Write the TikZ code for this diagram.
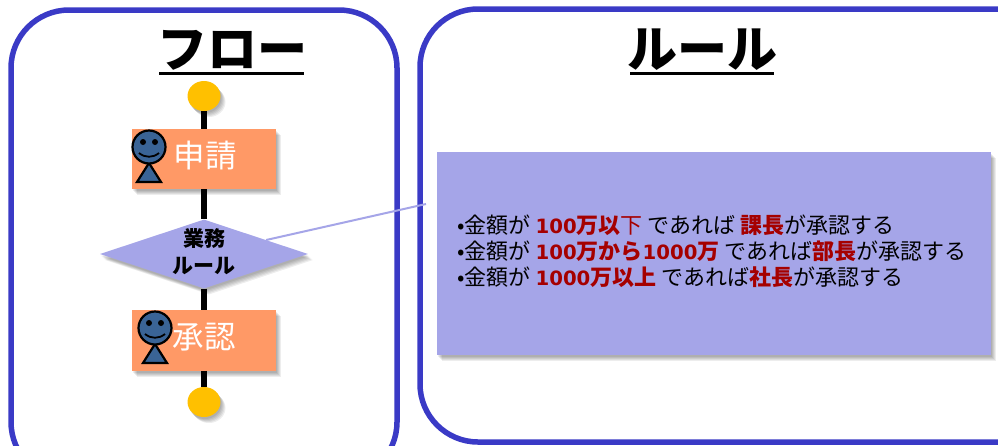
\documentclass[tikz,border=0pt]{standalone}
\usepackage{fontspec}
\setmainfont{Noto Sans CJK JP}
\newfontfamily\digitfont{DejaVu Sans}
\usetikzlibrary{shapes.geometric,shadows}

\definecolor{panelblue}{HTML}{3A3AC6}
\definecolor{rulefill}{HTML}{A5A5E8}
\definecolor{stepfill}{HTML}{FF9966}
\definecolor{dotfill}{HTML}{FFC000}
\definecolor{headfill}{HTML}{3A6496}
\definecolor{rulered}{HTML}{A50000}

\newcommand{\num}[1]{{\digitfont\fontsize{19.7}{22}\selectfont\bfseries #1}}
\newcommand{\hlr}[1]{\textcolor{rulered}{\bfseries #1}}

\tikzset{
  softshadow/.style={
    general shadow={fill=black,opacity=0.07,shadow xshift=1pt,shadow yshift=-2pt},
    general shadow={fill=black,opacity=0.07,shadow xshift=2pt,shadow yshift=-3pt},
    general shadow={fill=black,opacity=0.07,shadow xshift=3pt,shadow yshift=-4pt},
    general shadow={fill=black,opacity=0.07,shadow xshift=4pt,shadow yshift=-5pt},
    general shadow={fill=black,opacity=0.07,shadow xshift=5pt,shadow yshift=-6pt}},
  panel/.style={draw=panelblue,line width=5.5pt,rounded corners=58pt,fill=white},
  paneltitle/.style={font=\fontsize{50}{54}\selectfont\bfseries,inner sep=0pt},
  titlerule/.style={black,line width=3pt},
  flowline/.style={black,line width=6pt},
  stepbox/.style={fill=stepfill,minimum width=144pt,minimum height=60.5pt,inner sep=0pt,softshadow},
  steptext/.style={text=white,font=\fontsize{31.5}{34}\selectfont,inner sep=0pt},
  enddot/.style={ellipse,fill=dotfill,minimum width=33pt,minimum height=30pt,inner sep=0pt,softshadow},
  ruletext/.style={anchor=west,inner sep=0pt,font=\fontsize{22}{24}\selectfont},
  persontype/.style={fill=headfill,draw=black,line width=2.2pt}
}

\begin{document}
\begin{tikzpicture}[x=1pt,y=-1pt]
  \useasboundingbox (0,0) rectangle (998,445);

  % panels
  \draw[panel] (11,10) rectangle (397,480);
  \draw[panel] (420,9) rectangle (1060,442);

  % titles
  \node[paneltitle] (flowtitle) at (232,50) {フロー};
  \node[paneltitle] (ruletitle) at (702,50) {ルール};
  \coordinate (flowruleL) at (159,73);
  \coordinate (flowruleR) at (304,73);
  \coordinate (ruleruleL) at (630,73);
  \coordinate (ruleruleR) at (774,73);
  \draw[titlerule] (flowruleL) -- (flowruleR);
  \draw[titlerule] (ruleruleL) -- (ruleruleR);

  % flow
  \node[enddot] (startdot) at (204,96) {};
  \node[stepbox] (applybox) at (204,159) {};
  \node[diamond,fill=rulefill,minimum width=208pt,minimum height=69pt,inner sep=0pt,shape aspect=3,softshadow,
        label={[align=center,inner sep=0pt,yshift=2pt,font=\fontsize{21}{27}\selectfont\bfseries]center:業務\\ルール}] (rulediamond) at (204,254) {};
  \node[stepbox] (approvebox) at (204,340.5) {};
  \node[enddot] (enddot) at (204,402) {};

  \draw[flowline] (startdot) -- (applybox);
  \draw[flowline] (applybox) -- (rulediamond);
  \draw[flowline] (rulediamond) -- (approvebox);
  \draw[flowline] (approvebox) -- (enddot);

  \node[steptext] (applytext) at (205,156) {申請};
  \node[steptext] (approvetext) at (204,337) {承認};

  % persons
  \draw[persontype] (149,163) -- (161,182) -- (137,182) -- cycle;
  \node[circle,persontype,minimum size=33pt,inner sep=0pt] (applyhead) at (149,147) {};
  \fill (143,142) circle (3pt);
  \fill (155,142) circle (3pt);
  \draw[line width=1.8pt] (139,153) .. controls (145,158) and (153,158) .. (159,153);

  \draw[persontype] (155,344) -- (167,363) -- (143,363) -- cycle;
  \node[circle,persontype,minimum size=33pt,inner sep=0pt] (approvehead) at (155,328) {};
  \fill (149,323) circle (3pt);
  \fill (161,323) circle (3pt);
  \draw[line width=1.8pt] (145,334) .. controls (151,339) and (159,339) .. (165,334);

  % rules
  \node[fill=rulefill,minimum width=554pt,minimum height=203pt,inner sep=0pt,softshadow] (rulebox) at (714,253.5) {};
  \coordinate (calloutend) at (426,204);
  \draw[rulefill,line width=2pt] (rulediamond) -- (calloutend);

  \node[ruletext] (ruleone) at (457,225) {•金額が \hlr{\num{100}万以}\textcolor{rulered}{下} であれば \hlr{課長}が承認する};
  \node[ruletext] (ruletwo) at (457,251) {•金額が \hlr{\num{100}万から\num{1000}万} であれば\hlr{部長}が承認する};
  \node[ruletext] (rulethree) at (457,277) {•金額が \hlr{\num{1000}万以上} であれば\hlr{社長}が承認する};
\end{tikzpicture}
\end{document}
